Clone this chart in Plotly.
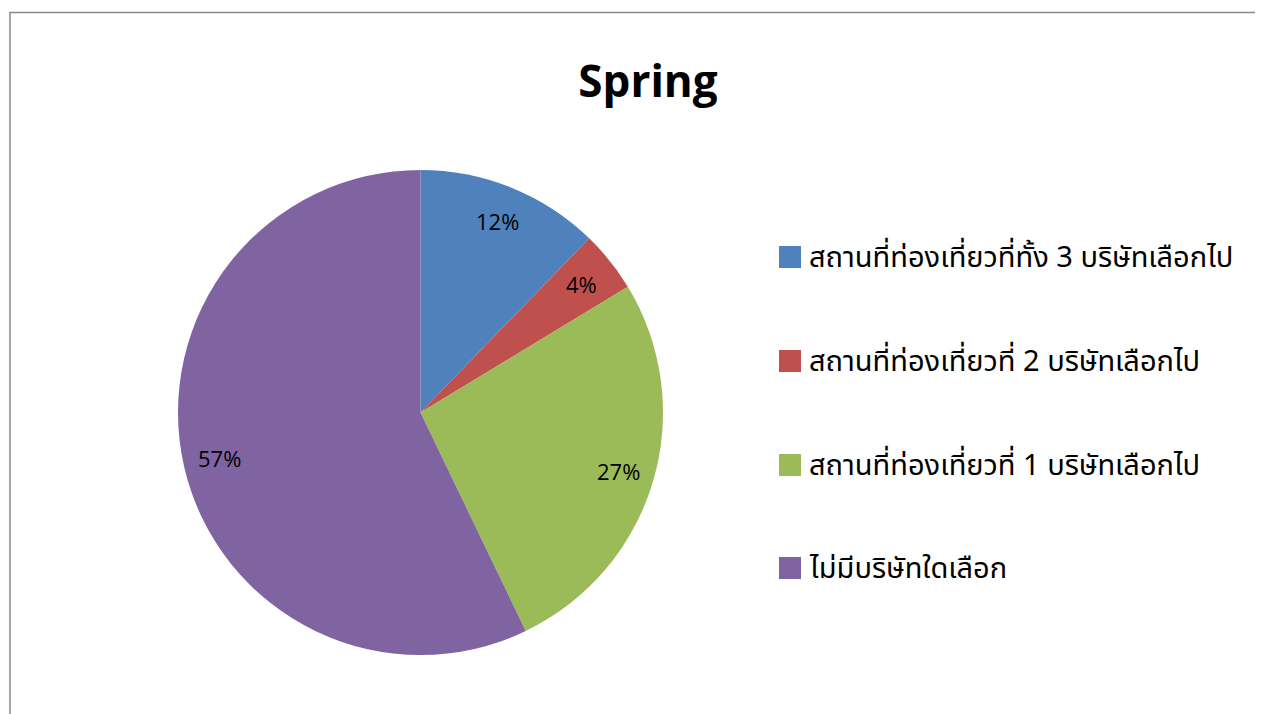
import math
import plotly.graph_objects as go

labels = [
    "สถานที่ท่องเที่ยวที่ทั้ง 3 บริษัทเลือกไป",
    "สถานที่ท่องเที่ยวที่ 2 บริษัทเลือกไป",
    "สถานที่ท่องเที่ยวที่ 1 บริษัทเลือกไป",
    "ไม่มีบริษัทใดเลือก",
]
values = [6, 2, 13, 28]
colors = ["#4F81BD", "#C0504D", "#9BBB59", "#8064A2"]
title = "Spring"

# page has an 8px body margin; lay out in window pixels and convert
OFF = 8
W, H = 1263 - OFF, 714 - OFF


def px(x):
    return (x - OFF) / W


def py(y):
    return 1 - (y - OFF) / H


CX, CY, R = 420.5, 412.5, 242.5
LEG_Y = [257, 361, 465, 568]

fig = go.Figure(go.Pie(
    labels=labels,
    values=values,
    sort=False,
    direction="clockwise",
    rotation=0,
    marker=dict(colors=colors, line=dict(width=0)),
    textinfo="none",
    domain=dict(x=[px(CX - R), px(CX + R)], y=[py(CY + R), py(CY - R)]),
    hoverinfo="label+percent",
    showlegend=False,
))

annotations = []
shapes = []

# percent labels, placed at the middle angle of each slice
total = sum(values)
cum = 0
for v in values:
    mid = (cum + v / 2) / total * 2 * math.pi
    cum += v
    lx = CX + 0.85 * R * math.sin(mid)
    ly = CY - 0.85 * R * math.cos(mid)
    annotations.append(dict(
        x=px(lx), y=py(ly), xref="paper", yref="paper",
        text=f"{round(v / total * 100)}%", showarrow=False,
        xanchor="center", yanchor="middle",
        font=dict(family="Open Sans, sans-serif", size=22, color="black"),
    ))

# legend
for lab, col, yc in zip(labels, colors, LEG_Y):
    shapes.append(dict(type="rect", xref="paper", yref="paper",
                       x0=px(779), x1=px(801), y0=py(yc + 11), y1=py(yc - 11),
                       fillcolor=col, line=dict(width=0)))
    annotations.append(dict(
        x=px(807), y=py(yc + 1), xref="paper", yref="paper",
        text=lab, showarrow=False, xanchor="left", yanchor="middle",
        font=dict(family="Noto Sans Thai, Noto Sans, DejaVu Sans, sans-serif", size=29, color="black"),
    ))

# chart frame
shapes.append(dict(type="rect", xref="paper", yref="paper",
                   x0=px(10), x1=1.02, y0=-0.02, y1=py(12.5),
                   line=dict(color="#888888", width=1.5), fillcolor="rgba(0,0,0,0)"))

fig.update_layout(
    width=W, height=H,
    margin=dict(l=0, r=0, t=0, b=0),
    paper_bgcolor="white",
    plot_bgcolor="white",
    title=dict(text="<b>" + title + "</b>", x=px(648), xanchor="center",
               y=py(82), yanchor="middle",
               font=dict(family="Open Sans, sans-serif", size=44, color="black")),
    showlegend=False,
    annotations=annotations,
    shapes=shapes,
)

fig.write_html("out.html")
